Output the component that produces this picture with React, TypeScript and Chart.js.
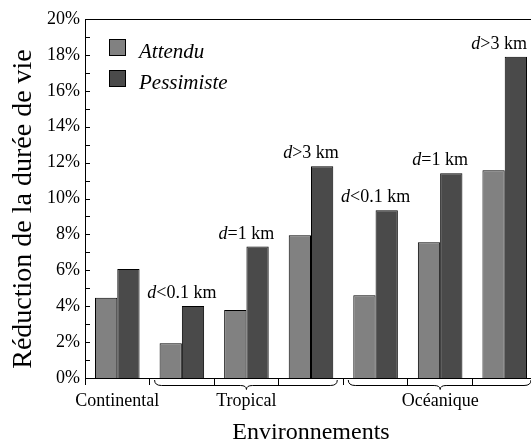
import React, { useEffect, useRef } from 'react';
import { Chart, registerables } from 'chart.js';

Chart.register(...registerables);

// ---- data ----
const categories = ['Continental', '', 'Tropical', '', '', 'Océanique', ''];
const distancePrefix = ['', 'd', 'd', 'd', 'd', 'd', 'd'];
const distanceRest = ['', '<0.1 km', '=1 km', '>3 km', '<0.1 km', '=1 km', '>3 km'];
const attendu = [4.47, 1.93, 3.79, 7.95, 4.61, 7.56, 11.57];
const pessimiste = [6.07, 4.01, 7.32, 11.79, 9.34, 11.4, 17.9];
const seriesNames = ['Attendu', 'Pessimiste'];
const braceFrom = [1, 4];
const braceTo = [3, 6];
const yMin = 0;
const yMax = 20;
const yStep = 1;

const FONT = "'Liberation Serif', 'Times New Roman', serif";

const decorPlugin = {
  id: 'decor',
  afterDraw(chart: any) {
    const { ctx, chartArea, scales } = chart;
    const xs = scales.x;
    const ys = scales.y;
    ctx.save();
    ctx.strokeStyle = '#000';
    ctx.lineWidth = 1;

    // top frame line
    ctx.beginPath();
    ctx.moveTo(chartArea.left, Math.round(chartArea.top) + 0.5);
    ctx.lineTo(chartArea.right, Math.round(chartArea.top) + 0.5);
    ctx.stroke();

    // inward y ticks
    ctx.beginPath();
    ys.ticks.forEach((t: any) => {
      const py = Math.round(ys.getPixelForValue(t.value)) + 0.5;
      ctx.moveTo(chartArea.left, py);
      ctx.lineTo(chartArea.left + 5, py);
    });
    ctx.stroke();

    // braces
    const half = (xs.getPixelForValue(1) - xs.getPixelForValue(0)) / 2;
    const yTop = chartArea.bottom + 2;
    const yLine = Math.round(chartArea.bottom + 7) + 0.5;
    const yTip = chartArea.bottom + 11.5;
    braceFrom.forEach((f, i) => {
      const t = braceTo[i];
      const x0 = xs.getPixelForValue(f) - half + 5;
      const x1 = xs.getPixelForValue(t) + half - 6;
      const xm = (xs.getPixelForValue(f) + xs.getPixelForValue(t)) / 2;
      ctx.beginPath();
      ctx.moveTo(x0, yTop);
      ctx.quadraticCurveTo(x0, yLine, x0 + 7, yLine);
      ctx.lineTo(xm - 6, yLine);
      ctx.quadraticCurveTo(xm, yLine, xm, yTip);
      ctx.quadraticCurveTo(xm, yLine, xm + 6, yLine);
      ctx.lineTo(x1 - 7, yLine);
      ctx.quadraticCurveTo(x1, yLine, x1, yTop);
      ctx.stroke();
    });

    // distance labels above the pessimiste bars
    ctx.fillStyle = '#000';
    ctx.textBaseline = 'alphabetic';
    ctx.textAlign = 'left';
    const italic = `italic 18px ${FONT}`;
    const normal = `18px ${FONT}`;
    const meta = chart.getDatasetMeta(1);
    let maxRight = 0;
    meta.data.forEach((b: any) => {
      maxRight = Math.max(maxRight, b.x + b.width / 2);
    });
    distanceRest.forEach((rest, i) => {
      if (!rest) return;
      const pre = distancePrefix[i];
      ctx.font = italic;
      const w1 = ctx.measureText(pre).width;
      ctx.font = normal;
      const w2 = ctx.measureText(rest).width;
      const cx = xs.getPixelForValue(i);
      const by = ys.getPixelForValue(pessimiste[i]) - 8;
      let sx = cx - (w1 + w2) / 2;
      if (sx + w1 + w2 > maxRight) sx = maxRight - (w1 + w2);
      ctx.font = italic;
      ctx.fillText(pre, sx, by);
      ctx.font = normal;
      ctx.fillText(rest, sx + w1, by);
    });

    // legend
    chart.data.datasets.forEach((ds: any, i: number) => {
      const lx = chartArea.left + 24;
      const ly = chartArea.top + 20 + i * 31;
      ctx.fillStyle = ds.backgroundColor;
      ctx.fillRect(lx, ly, 17, 17);
      ctx.strokeRect(lx + 0.5, ly + 0.5, 16, 16);
      ctx.fillStyle = '#000';
      ctx.font = `italic 21px ${FONT}`;
      ctx.fillText(ds.label, chartArea.left + 54, ly + 18.5);
    });
    ctx.restore();
  },
};

export default function App() {
  const ref = useRef<HTMLCanvasElement | null>(null);
  useEffect(() => {
    if (!ref.current) return;
    const chart = new Chart(ref.current, {
      type: 'bar',
      data: {
        labels: categories,
        datasets: [
          {
            label: seriesNames[0],
            data: attendu,
            backgroundColor: '#818181',
            borderColor: '#000',
            borderWidth: 1,
            categoryPercentage: 0.69,
            barPercentage: 1.0,
          },
          {
            label: seriesNames[1],
            data: pessimiste,
            backgroundColor: '#4a4a4a',
            borderColor: '#000',
            borderWidth: 1,
            categoryPercentage: 0.69,
            barPercentage: 1.0,
          },
        ],
      },
      options: {
        animation: false,
        responsive: true,
        maintainAspectRatio: false,
        layout: { padding: { top: 19, right: 3, left: 0, bottom: 0 } },
        plugins: {
          legend: { display: false },
          tooltip: { enabled: false },
        },
        scales: {
          x: {
            grid: {
              display: true,
              drawOnChartArea: false,
              drawTicks: true,
              tickLength: 7,
              tickColor: '#000',
              tickWidth: 1,
              offset: true,
            },
            border: { display: true, color: '#000', width: 1 },
            ticks: {
              autoSkip: false,
              maxRotation: 0,
              minRotation: 0,
              padding: 5,
              color: '#000',
              font: { family: FONT, size: 18 },
            },
            title: {
              display: true,
              text: 'Environnements',
              color: '#000',
              font: { family: FONT, size: 24, lineHeight: 0.84 },
              padding: { top: 0, bottom: 0 },
            },
            afterFit: (s: any) => {
              s.height = 65;
            },
          },
          y: {
            min: yMin,
            max: yMax,
            grid: { display: false, drawTicks: false },
            border: { display: true, color: '#000', width: 1 },
            ticks: {
              stepSize: yStep,
              autoSkip: false,
              padding: 5,
              color: '#000',
              font: { family: FONT, size: 18 },
              callback: (v: any) => (Number(v) % 2 === 0 ? `${v}%` : ''),
            },
            title: {
              display: true,
              text: 'Réduction de la durée de vie   ',
              color: '#000',
              font: { family: FONT, size: 28, lineHeight: 1 },
              padding: { top: 9.5, bottom: 0 },
            },
            afterFit: (s: any) => {
              s.width = 85;
            },
          },
        },
      },
      plugins: [decorPlugin],
    });
    return () => chart.destroy();
  }, []);

  return (
    <div
      style={{
        position: 'fixed',
        left: 0,
        top: 0,
        width: 531,
        height: 443,
        overflow: 'hidden',
        background: '#fff',
      }}
    >
      <div style={{ position: 'relative', width: 540, height: 443 }}>
        <canvas ref={ref} />
      </div>
    </div>
  );
}
